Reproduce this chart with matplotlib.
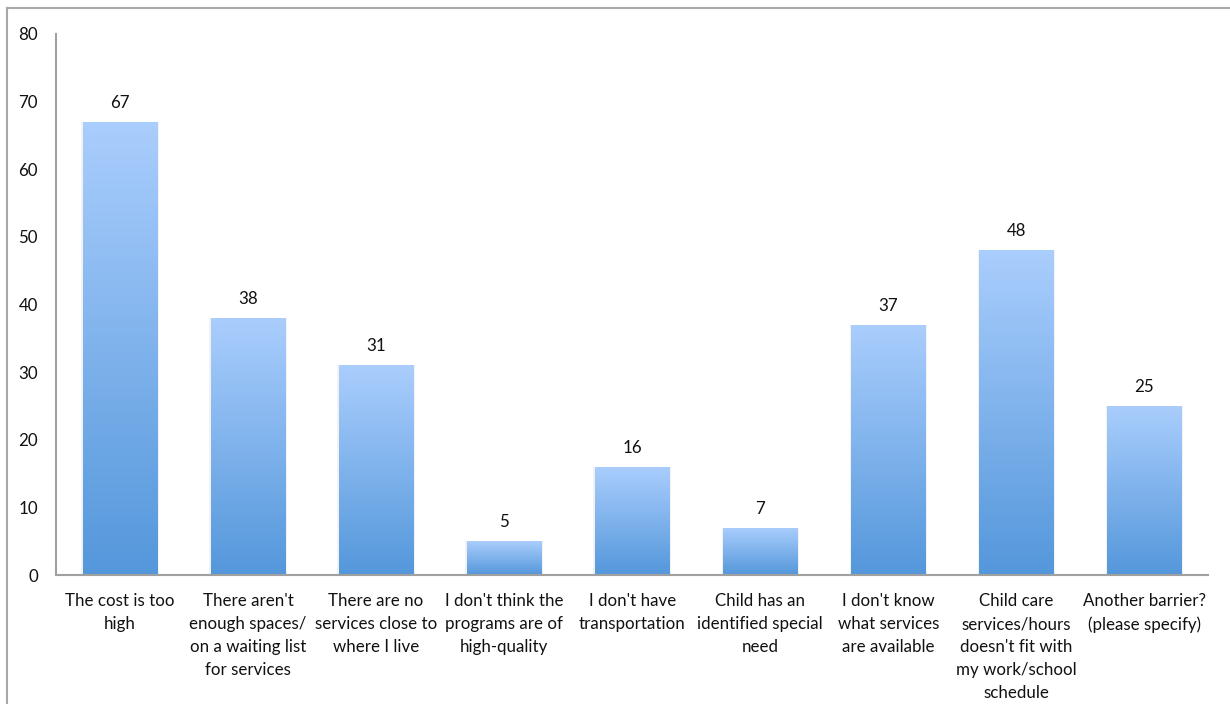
import numpy as np
import matplotlib.pyplot as plt
from matplotlib.colors import LinearSegmentedColormap
from matplotlib.lines import Line2D

# survey answers and counts
categories = [
    "The cost is too\nhigh",
    "There aren't\nenough spaces/\non a waiting list\nfor services",
    "There are no\nservices close to\nwhere I live",
    "I don't think the\nprograms are of\nhigh-quality",
    "I don't have\ntransportation",
    "Child has an\nidentified special\nneed",
    "I don't know\nwhat services\nare available",
    "Child care\nservices/hours\ndoesn't fit with\nmy work/school\nschedule",
    "Another barrier?\n(please specify)",
]
counts = [67, 38, 31, 5, 16, 7, 37, 48, 25]
yticks = [0, 10, 20, 30, 40, 50, 60, 70, 80]

plt.rcParams['font.family'] = ['Lato', 'DejaVu Sans']
FS = 12.2

fig = plt.figure(figsize=(12.3, 7.04), dpi=100)
ax = fig.add_axes([0.0455, 0.183, 0.937, 0.769])

x = np.arange(len(categories))
bars = ax.bar(x, counts, width=0.58, color='none', edgecolor='none', zorder=2)

# vertical gradient inside each bar
cmap = LinearSegmentedColormap.from_list('blu', ['#5497db', '#aacefd'])
grad = np.linspace(0, 1, 256).reshape(-1, 1)
for b in bars:
    x0, w, h = b.get_x(), b.get_width(), b.get_height()
    # faint soft shadow around the bar
    ax.bar(x0 + w / 2, h, width=w + 0.025, color='#000000', alpha=0.05,
           edgecolor='none', zorder=1)
    im = ax.imshow(grad, cmap=cmap, origin='lower', aspect='auto',
                   extent=[x0, x0 + w, 0, h], zorder=2)
    im.set_clip_path(b)

for xi, v in zip(x, counts):
    ax.annotate(str(v), (xi, v), xytext=(0, 8), textcoords='offset points',
                ha='center', va='bottom', fontsize=FS, color='#111111')

ax.set_xlim(-0.5, len(categories) - 0.5)
ax.set_ylim(0, 80)
ax.set_yticks(yticks)
ax.set_yticklabels([str(t) for t in yticks], fontsize=FS, color='#111111')
ax.set_xticks(x)
ax.set_xticklabels(categories, fontsize=FS, color='#111111', linespacing=1.54,
                   va='top')
ax.tick_params(axis='y', length=0, pad=13)
ax.tick_params(axis='x', length=0, pad=13)

for s in ['top', 'right']:
    ax.spines[s].set_visible(False)
for s in ['left', 'bottom']:
    ax.spines[s].set_color('#a0a0a0')
    ax.spines[s].set_linewidth(1.5)

# outer chart frame (top and left edges visible)
fig.add_artist(Line2D([0.0057, 0.0057], [0, 0.989], transform=fig.transFigure,
                      color='#a8a8a8', lw=1.5))
fig.add_artist(Line2D([0.0057, 1.0], [0.989, 0.989], transform=fig.transFigure,
                      color='#a8a8a8', lw=1.5))

fig.savefig('out.png', dpi=100)
